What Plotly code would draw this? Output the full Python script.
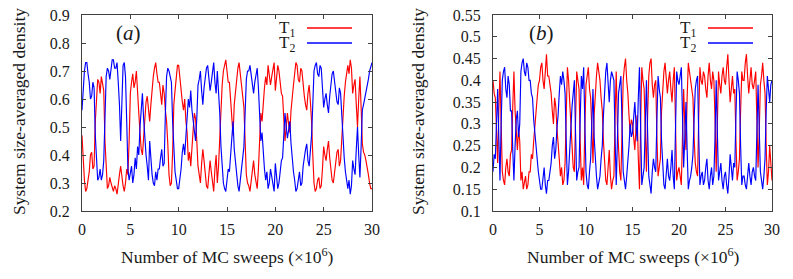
import numpy as np
import plotly.graph_objects as go

# sample times (x10^6 MC sweeps), one sample every 0.125
sweeps = np.arange(0, 30.0001, 0.125)

T1_a = [0.47,0.38,0.31,0.27,0.28,0.31,0.34,0.40, 0.41,0.35,0.36,0.52,0.61,0.67,0.66,0.62,
        0.68,0.66,0.63,0.45,0.34,0.28,0.29,0.32, 0.30,0.28,0.27,0.29,0.28,0.26,0.31,0.33,
        0.36,0.32,0.29,0.27,0.30,0.35,0.33,0.45, 0.62,0.66,0.69,0.64,0.66,0.70,0.60,0.55,
        0.48,0.42,0.40,0.47,0.55,0.59,0.61,0.56, 0.52,0.58,0.64,0.68,0.71,0.73,0.69,0.66,
        0.66,0.61,0.58,0.65,0.62,0.56,0.52,0.44, 0.33,0.29,0.30,0.41,0.58,0.63,0.68,0.72,
        0.72,0.67,0.64,0.59,0.56,0.60,0.52,0.48, 0.38,0.41,0.36,0.44,0.49,0.55,0.53,0.45,
        0.36,0.33,0.30,0.37,0.42,0.38,0.33,0.29, 0.28,0.33,0.38,0.34,0.31,0.27,0.35,0.40,
        0.30,0.36,0.46,0.58,0.65,0.70,0.72,0.74, 0.70,0.66,0.66,0.58,0.52,0.47,0.58,0.63,
        0.68,0.71,0.73,0.68,0.64,0.61,0.57,0.46, 0.33,0.30,0.29,0.27,0.31,0.34,0.38,0.33,
        0.30,0.28,0.35,0.44,0.55,0.52,0.60,0.64, 0.68,0.65,0.72,0.69,0.65,0.68,0.70,0.73,
        0.63,0.67,0.72,0.70,0.66,0.62,0.61,0.52, 0.45,0.50,0.55,0.51,0.48,0.56,0.62,0.65,
        0.69,0.73,0.72,0.67,0.66,0.71,0.70,0.64, 0.61,0.58,0.56,0.62,0.65,0.59,0.52,0.40,
        0.30,0.27,0.28,0.31,0.32,0.28,0.29,0.35, 0.43,0.40,0.38,0.42,0.45,0.39,0.34,0.31,
        0.30,0.34,0.37,0.41,0.42,0.36,0.38,0.46, 0.55,0.61,0.66,0.70,0.72,0.69,0.74,0.71,
        0.62,0.65,0.67,0.58,0.50,0.60,0.68,0.57, 0.44,0.41,0.40,0.38,0.36,0.33,0.30,0.28,
        0.28]
T2_a = [0.56,0.64,0.70,0.73,0.73,0.69,0.66,0.60, 0.61,0.66,0.64,0.47,0.36,0.31,0.32,0.35,
        0.31,0.33,0.38,0.55,0.68,0.71,0.70,0.67, 0.72,0.74,0.74,0.71,0.71,0.73,0.66,0.58,
        0.45,0.62,0.72,0.73,0.68,0.52,0.35,0.31, 0.33,0.36,0.30,0.33,0.39,0.35,0.43,0.40,
        0.50,0.57,0.62,0.53,0.44,0.40,0.36,0.31, 0.45,0.38,0.33,0.30,0.29,0.34,0.31,0.35,
        0.35,0.39,0.42,0.36,0.37,0.55,0.68,0.71, 0.70,0.68,0.66,0.52,0.40,0.34,0.31,0.28,
        0.28,0.31,0.35,0.41,0.44,0.40,0.48,0.52, 0.60,0.57,0.63,0.56,0.52,0.47,0.45,0.53,
        0.65,0.67,0.70,0.63,0.58,0.64,0.67,0.71, 0.72,0.68,0.63,0.66,0.69,0.73,0.66,0.62,
        0.70,0.64,0.55,0.43,0.34,0.30,0.28,0.27, 0.31,0.35,0.34,0.41,0.48,0.52,0.42,0.37,
        0.33,0.29,0.27,0.31,0.36,0.39,0.43,0.55, 0.67,0.70,0.70,0.72,0.68,0.65,0.62,0.66,
        0.69,0.71,0.64,0.55,0.45,0.48,0.39,0.35, 0.31,0.34,0.28,0.30,0.35,0.32,0.30,0.27,
        0.37,0.33,0.28,0.30,0.34,0.38,0.39,0.47, 0.55,0.50,0.46,0.49,0.52,0.44,0.38,0.34,
        0.31,0.27,0.28,0.32,0.34,0.29,0.30,0.36, 0.40,0.42,0.44,0.38,0.36,0.41,0.47,0.58,
        0.70,0.72,0.73,0.69,0.68,0.72,0.71,0.64, 0.57,0.60,0.62,0.58,0.55,0.61,0.66,0.69,
        0.70,0.66,0.63,0.59,0.58,0.64,0.62,0.54, 0.45,0.39,0.34,0.30,0.28,0.31,0.26,0.29,
        0.38,0.35,0.33,0.42,0.50,0.40,0.32,0.43, 0.56,0.58,0.60,0.62,0.64,0.67,0.70,0.72,
        0.73]
T1_b = [0.40,0.37,0.36,0.28,0.21,0.33,0.42,0.30, 0.19,0.17,0.16,0.20,0.22,0.19,0.18,0.23,
        0.24,0.34,0.42,0.33,0.27,0.24,0.29,0.26, 0.17,0.19,0.15,0.17,0.18,0.15,0.16,0.19,
        0.19,0.23,0.22,0.26,0.30,0.34,0.36,0.39, 0.40,0.43,0.44,0.40,0.38,0.42,0.46,0.41,
        0.41,0.39,0.37,0.33,0.30,0.36,0.34,0.29, 0.26,0.22,0.18,0.20,0.16,0.17,0.21,0.33,
        0.43,0.40,0.35,0.28,0.24,0.20,0.19,0.31, 0.42,0.40,0.38,0.26,0.17,0.20,0.16,0.29,
        0.39,0.41,0.43,0.38,0.36,0.29,0.21,0.32, 0.38,0.41,0.44,0.42,0.40,0.36,0.33,0.26,
        0.20,0.17,0.16,0.21,0.24,0.18,0.15,0.17, 0.18,0.31,0.42,0.30,0.22,0.19,0.17,0.28,
        0.40,0.43,0.45,0.40,0.37,0.32,0.28,0.31, 0.30,0.27,0.24,0.29,0.32,0.22,0.15,0.30,
        0.43,0.40,0.38,0.28,0.19,0.32,0.41,0.44, 0.45,0.39,0.36,0.39,0.40,0.27,0.18,0.20,
        0.22,0.33,0.39,0.42,0.44,0.40,0.37,0.40, 0.42,0.38,0.35,0.40,0.43,0.30,0.17,0.19,
        0.20,0.18,0.16,0.27,0.38,0.30,0.24,0.36, 0.44,0.42,0.40,0.38,0.36,0.27,0.21,0.19,
        0.18,0.32,0.43,0.40,0.39,0.42,0.41,0.38, 0.36,0.41,0.44,0.40,0.38,0.42,0.40,0.31,
        0.19,0.30,0.42,0.39,0.37,0.41,0.43,0.40, 0.39,0.43,0.46,0.40,0.35,0.38,0.41,0.37,
        0.38,0.26,0.17,0.19,0.22,0.33,0.42,0.40, 0.40,0.44,0.46,0.41,0.37,0.40,0.43,0.39,
        0.38,0.40,0.42,0.31,0.20,0.28,0.39,0.41, 0.44,0.40,0.37,0.25,0.16,0.19,0.25,0.21,
        0.17]
T2_b = [0.19,0.23,0.22,0.31,0.38,0.27,0.17,0.30, 0.40,0.42,0.43,0.38,0.36,0.41,0.39,0.33,
        0.33,0.24,0.17,0.25,0.31,0.33,0.27,0.30, 0.42,0.44,0.45,0.42,0.41,0.44,0.43,0.40,
        0.40,0.37,0.36,0.31,0.28,0.24,0.22,0.19, 0.17,0.15,0.15,0.18,0.20,0.16,0.14,0.17,
        0.17,0.19,0.21,0.25,0.27,0.22,0.24,0.29, 0.32,0.37,0.41,0.39,0.42,0.40,0.37,0.26,
        0.16,0.19,0.23,0.29,0.34,0.38,0.40,0.28, 0.17,0.19,0.20,0.31,0.41,0.38,0.43,0.30,
        0.19,0.16,0.15,0.19,0.22,0.30,0.38,0.27, 0.21,0.18,0.15,0.17,0.18,0.22,0.25,0.32,
        0.39,0.42,0.44,0.38,0.35,0.40,0.42,0.41, 0.40,0.27,0.16,0.26,0.37,0.39,0.41,0.30,
        0.19,0.17,0.15,0.18,0.21,0.25,0.30,0.27, 0.28,0.31,0.35,0.30,0.26,0.36,0.43,0.29,
        0.16,0.18,0.20,0.30,0.40,0.28,0.18,0.16, 0.14,0.19,0.22,0.20,0.19,0.31,0.41,0.38,
        0.36,0.26,0.19,0.16,0.15,0.18,0.22,0.18, 0.17,0.20,0.24,0.18,0.15,0.29,0.42,0.40,
        0.39,0.41,0.43,0.32,0.20,0.27,0.35,0.24, 0.15,0.17,0.18,0.20,0.23,0.31,0.38,0.40,
        0.41,0.27,0.16,0.18,0.19,0.16,0.17,0.20, 0.22,0.17,0.15,0.18,0.20,0.16,0.18,0.27,
        0.40,0.28,0.17,0.19,0.21,0.17,0.15,0.18, 0.19,0.16,0.14,0.18,0.23,0.20,0.17,0.21,
        0.20,0.32,0.42,0.40,0.37,0.25,0.16,0.18, 0.18,0.16,0.15,0.18,0.21,0.18,0.16,0.19,
        0.20,0.18,0.17,0.28,0.39,0.29,0.19,0.17, 0.15,0.18,0.22,0.33,0.41,0.38,0.35,0.39,
        0.40]

x_ticks = [0, 5, 10, 15, 20, 25, 30]
y_ticks_a = [0.2, 0.3, 0.4, 0.5, 0.6, 0.7, 0.8, 0.9]
y_ticks_b = [0.1, 0.15, 0.2, 0.25, 0.3, 0.35, 0.4, 0.45, 0.5, 0.55]
y_labels_b = ["0.1", "0.15", "0.2", "0.25", "0.3", "0.35", "0.4", "0.45", "0.5", "0.55"]

W, H = 793, 279
FONT = "Liberation Serif, Times New Roman, serif"
TXT = "#1a1a1a"
RED, BLUE = "#ff0000", "#0000ff"

fig = go.Figure()
for xa, ya, y1, y2 in [("x", "y", T1_a, T2_a), ("x2", "y2", T1_b, T2_b)]:
    fig.add_trace(go.Scatter(x=sweeps, y=y1, mode="lines", line=dict(color=RED, width=1.15),
                             xaxis=xa, yaxis=ya, showlegend=False))
    fig.add_trace(go.Scatter(x=sweeps, y=y2, mode="lines", line=dict(color=BLUE, width=1.15),
                             xaxis=xa, yaxis=ya, showlegend=False))

def px_x(p):
    return p / W

def px_y(p):
    return 1 - p / H

ax_common = dict(showline=True, linecolor="#404040", linewidth=1, mirror="ticks", ticks="inside",
                 ticklen=4, tickcolor="#404040", showgrid=False, zeroline=False, automargin=False,
                 tickfont=dict(family=FONT, size=16, color=TXT))
xax = dict(ax_common, ticklabelstandoff=4)
yax = dict(ax_common, ticklabelstandoff=8)

ydom = [px_y(211), px_y(15)]
fig.update_layout(
    template="none",
    width=W, height=H, margin=dict(l=0, r=0, t=0, b=0, pad=0),
    paper_bgcolor="white", plot_bgcolor="white",
    xaxis=dict(domain=[px_x(82), px_x(372)], range=[0, 30], tickvals=x_ticks, anchor="y", **xax),
    yaxis=dict(domain=ydom, range=[0.2, 0.9], tickvals=y_ticks_a, anchor="x", **yax),
    xaxis2=dict(domain=[px_x(493), px_x(772)], range=[0, 30], tickvals=x_ticks, anchor="y2", **xax),
    yaxis2=dict(domain=ydom, range=[0.1, 0.55], tickvals=y_ticks_b, ticktext=y_labels_b, anchor="x2", **yax),
)

ann = []
shapes = []
for (ylx, xtc, labx, tag, legtx, legl0, legl1) in [
        (19, 227, 128, "(<i>a</i>)", 297, 307, 352),
        (418, 633, 541, "(<i>b</i>)", 698, 708, 753)]:
    ann.append(dict(x=px_x(ylx), y=px_y(112), xref="paper", yref="paper", text="System size-averaged density",
                    textangle=-90, showarrow=False, font=dict(family=FONT, size=17.5, color=TXT),
                    xanchor="center", yanchor="middle"))
    ann.append(dict(x=px_x(xtc), y=px_y(256), xref="paper", yref="paper",
                    text="Number of MC sweeps (×10<sup>6</sup>)", showarrow=False,
                    font=dict(family=FONT, size=17.5, color=TXT), xanchor="center", yanchor="middle"))
    ann.append(dict(x=px_x(labx), y=px_y(33), xref="paper", yref="paper", text=tag, showarrow=False,
                    font=dict(family=FONT, size=21, color=TXT), xanchor="center", yanchor="middle"))
    for (lab, yy, col) in [("T<sub>1</sub>", 28, RED), ("T<sub>2</sub>", 43, BLUE)]:
        ann.append(dict(x=px_x(legtx), y=px_y(yy + 1), xref="paper", yref="paper", text=lab, showarrow=False,
                        font=dict(family=FONT, size=17, color=TXT), xanchor="right", yanchor="middle"))
        shapes.append(dict(type="line", xref="paper", yref="paper", x0=px_x(legl0), x1=px_x(legl1),
                           y0=px_y(yy), y1=px_y(yy), line=dict(color=col, width=1.3)))

fig.update_layout(annotations=ann, shapes=shapes)
fig.write_html("out.html", config={"displayModeBar": False},
               post_script="document.body.style.margin='0px';")
